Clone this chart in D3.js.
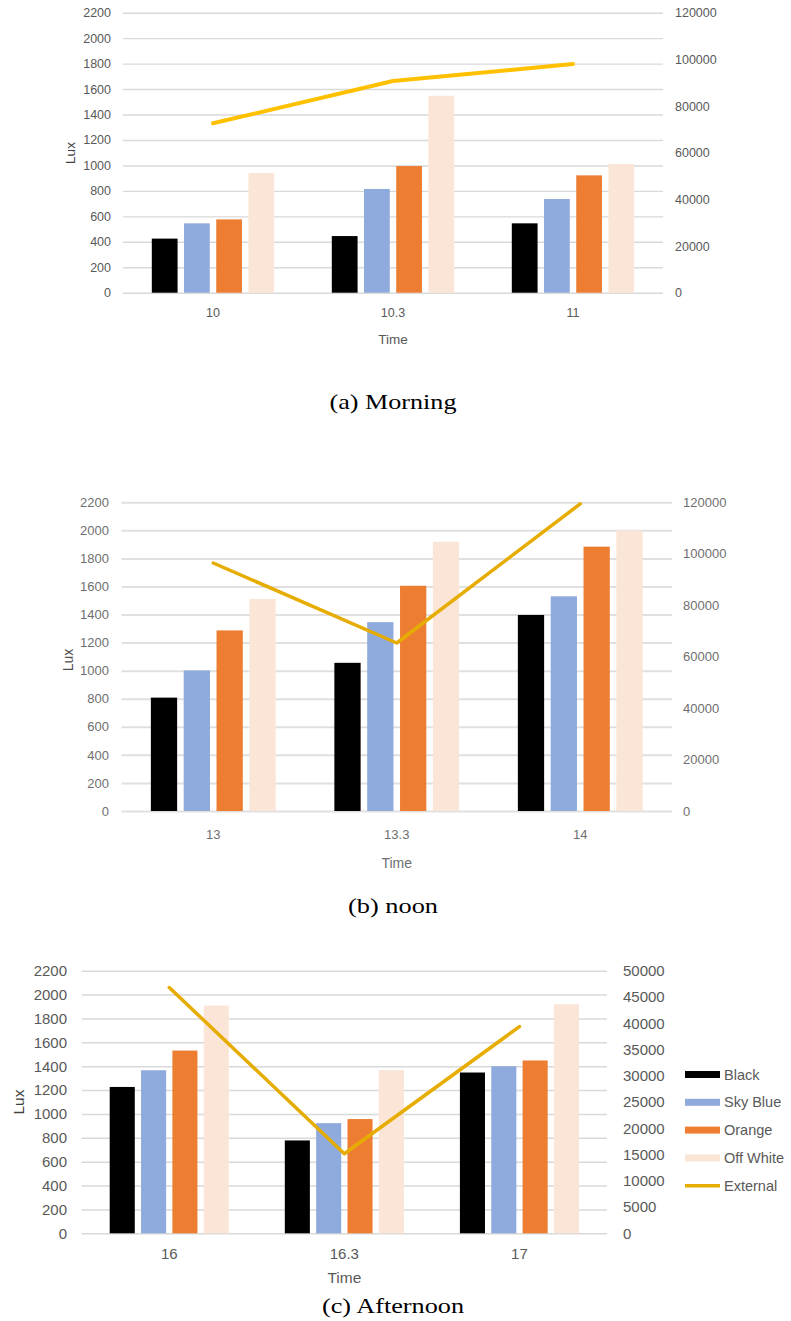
<!DOCTYPE html>
<html>
<head>
<meta charset="utf-8">
<script src="https://cdn.jsdelivr.net/npm/d3@7"></script>
<style>
  html, body { margin: 0; padding: 0; background: #fff; }
  svg { display: block; }
</style>
</head>
<body>
<svg id="chart" width="791" height="1321"></svg>
<script>
// ---------------- DATA ----------------
const seriesNames = ["Black", "Sky Blue", "Orange", "Off White"];
const lineName = "External";

const morningTimes = ["10", "10.3", "11"];
const morningBlack = [425, 445, 545];
const morningSkyBlue = [545, 815, 736];
const morningOrange = [576, 995, 922];
const morningOffWhite = [940, 1548, 1011];
const morningExternal = [72600, 90700, 98000];

const noonTimes = ["13", "13.3", "14"];
const noonBlack = [808, 1056, 1397];
const noonSkyBlue = [1002, 1346, 1530];
const noonOrange = [1287, 1605, 1884];
const noonOffWhite = [1511, 1919, 1998];
const noonExternal = [96400, 65300, 119400];

const afternoonTimes = ["16", "16.3", "17"];
const afternoonBlack = [1226, 778, 1347];
const afternoonSkyBlue = [1366, 923, 1400];
const afternoonOrange = [1531, 957, 1448];
const afternoonOffWhite = [1908, 1367, 1919];
const afternoonExternal = [46800, 15150, 39350];

const luxTicks = [0, 200, 400, 600, 800, 1000, 1200, 1400, 1600, 1800, 2000, 2200];
const externalTicksAB = [0, 20000, 40000, 60000, 80000, 100000, 120000];
const externalTicksC = [0, 5000, 10000, 15000, 20000, 25000, 30000, 35000, 40000, 45000, 50000];

const captions = ["(a) Morning", "(b) noon", "(c) Afternoon"];

// ---------------- STYLE ----------------
const barColors = ["#000000", "#8faadc", "#ed7d31", "#fbe5d6"];
const svg = d3.select("#chart");
const sansFont = "'Liberation Sans', Arial, sans-serif";

function drawPanel(cfg) {
  const g = svg.append("g");
  const x0 = d3.scaleBand().domain(cfg.times).range([cfg.left, cfg.right])
    .paddingInner(0.32).paddingOuter(0.16);
  const x1 = d3.scaleBand().domain(seriesNames).range([0, x0.bandwidth()])
    .paddingInner(0.2).paddingOuter(0);
  const yL = d3.scaleLinear().domain([0, 2200]).range([cfg.bottom, cfg.top]);
  const yR = d3.scaleLinear().domain([0, d3.max(cfg.rightTicks)]).range([cfg.bottom, cfg.top]);

  // left axis + gridlines
  const leftAxis = d3.axisLeft(yL).tickValues(luxTicks).tickFormat(d3.format("d"))
    .tickSize(-(cfg.right - cfg.left)).tickPadding(cfg.left - cfg.leftLabelEnd);
  const ga = g.append("g").attr("transform", `translate(${cfg.left},0)`).call(leftAxis);
  ga.select(".domain").remove();
  ga.selectAll(".tick line").attr("stroke", cfg.gridColor).attr("stroke-width", cfg.gridWidth);
  ga.selectAll(".tick text").attr("fill", cfg.textColor)
    .style("font-family", sansFont)
    .style("font-size", cfg.tickFont + "px");

  // right axis
  const rightAxis = d3.axisRight(yR).tickValues(cfg.rightTicks).tickSize(0)
    .tickPadding(cfg.rightLabelStart - cfg.right).tickFormat(d3.format("d"));
  const gr = g.append("g").attr("transform", `translate(${cfg.right},0)`).call(rightAxis);
  gr.select(".domain").remove();
  gr.selectAll(".tick text").attr("fill", cfg.textColor)
    .style("font-family", sansFont)
    .style("font-size", cfg.tickFont + "px");

  // bars
  const rows = cfg.times.map((t, i) => ({
    time: t,
    vals: seriesNames.map((s, j) => ({ s, v: cfg.series[j][i], j }))
  }));
  const grp = g.selectAll(".grp").data(rows).enter().append("g")
    .attr("transform", d => `translate(${x0(d.time)},0)`);
  grp.selectAll("rect").data(d => d.vals).enter().append("rect")
    .attr("x", d => x1(d.s))
    .attr("width", x1.bandwidth())
    .attr("y", d => yL(d.v))
    .attr("height", d => yL(0) - yL(d.v))
    .attr("fill", d => barColors[d.j]);

  // external line
  const line = d3.line()
    .x((d, i) => x0(cfg.times[i]) + x0.bandwidth() / 2)
    .y(d => yR(d));
  g.append("path").datum(cfg.external)
    .attr("d", line).attr("fill", "none")
    .attr("stroke", cfg.lineColor).attr("stroke-width", cfg.lineWidth)
    .attr("stroke-linecap", "round").attr("stroke-linejoin", "round");

  // category labels
  g.selectAll(".cat").data(cfg.times).enter().append("text")
    .attr("x", d => x0(d) + x0.bandwidth() / 2)
    .attr("y", cfg.catY)
    .attr("text-anchor", "middle").attr("dominant-baseline", "central")
    .attr("fill", cfg.textColor)
    .style("font-family", sansFont)
    .style("font-size", cfg.tickFont + "px")
    .text(d => d);

  // axis titles
  g.append("text").attr("x", (cfg.left + cfg.right) / 2).attr("y", cfg.timeY)
    .attr("text-anchor", "middle").attr("dominant-baseline", "central")
    .attr("fill", cfg.textColor)
    .style("font-family", sansFont)
    .style("font-size", cfg.titleFont + "px").text("Time");
  g.append("text")
    .attr("transform", `translate(${cfg.luxX},${cfg.luxY}) rotate(-90)`)
    .attr("text-anchor", "middle").attr("dominant-baseline", "central")
    .attr("fill", cfg.luxColor)
    .style("font-family", sansFont)
    .style("font-size", cfg.titleFont + "px").text("Lux");

  // caption
  g.append("text").attr("x", 393).attr("y", cfg.captionY)
    .attr("text-anchor", "middle").attr("dominant-baseline", "central")
    .attr("fill", "#000")
    .attr("textLength", cfg.captionWidth).attr("lengthAdjust", "spacingAndGlyphs")
    .style("font-family", "'Liberation Serif', 'Times New Roman', Times, serif")
    .style("font-size", "22px").text(cfg.caption);

  // legend
  if (cfg.legend) {
    const lg = g.append("g");
    const entries = seriesNames.concat([lineName]);
    entries.forEach((name, i) => {
      const yy = cfg.legendY + i * cfg.legendStep;
      if (i < seriesNames.length) {
        lg.append("rect").attr("x", cfg.legendX).attr("y", yy - 3.5)
          .attr("width", 35).attr("height", 7).attr("fill", barColors[i]);
      } else {
        lg.append("line").attr("x1", cfg.legendX).attr("x2", cfg.legendX + 35)
          .attr("y1", yy).attr("y2", yy)
          .attr("stroke", cfg.lineColor).attr("stroke-width", 3.5);
      }
      lg.append("text").attr("x", cfg.legendX + 39).attr("y", yy)
        .attr("dominant-baseline", "central").attr("fill", cfg.textColor)
        .style("font-family", sansFont)
        .style("font-size", "14.5px").text(name);
    });
  }
}

drawPanel({
  times: morningTimes,
  series: [morningBlack, morningSkyBlue, morningOrange, morningOffWhite],
  external: morningExternal, rightTicks: externalTicksAB,
  left: 123, right: 663, top: 12.7, bottom: 292.7,
  leftLabelEnd: 111, rightLabelStart: 675,
  tickFont: 12.5, titleFont: 13.5,
  catY: 313, timeY: 339, luxX: 70, luxY: 153,
  gridColor: "#d9d9d9", gridWidth: 1.4, textColor: "#595959", luxColor: "#404040",
  lineColor: "#ffc000", lineWidth: 4,
  caption: captions[0], captionY: 401, captionWidth: 127, legend: false
});

drawPanel({
  times: noonTimes,
  series: [noonBlack, noonSkyBlue, noonOrange, noonOffWhite],
  external: noonExternal, rightTicks: externalTicksAB,
  left: 121.5, right: 672, top: 502.3, bottom: 811,
  leftLabelEnd: 109, rightLabelStart: 683,
  tickFont: 13, titleFont: 14,
  catY: 834.5, timeY: 862.5, luxX: 68, luxY: 660,
  gridColor: "#e0e0e0", gridWidth: 2, textColor: "#6f6f6f", luxColor: "#505050",
  lineColor: "#e6ac00", lineWidth: 3.5,
  caption: captions[1], captionY: 905, captionWidth: 90, legend: false
});

drawPanel({
  times: afternoonTimes,
  series: [afternoonBlack, afternoonSkyBlue, afternoonOrange, afternoonOffWhite],
  external: afternoonExternal, rightTicks: externalTicksC,
  left: 81.7, right: 607, top: 970.7, bottom: 1233.3,
  leftLabelEnd: 67, rightLabelStart: 623,
  tickFont: 15, titleFont: 15.5,
  catY: 1253, timeY: 1277, luxX: 18, luxY: 1102,
  gridColor: "#d9d9d9", gridWidth: 1.4, textColor: "#595959", luxColor: "#404040",
  lineColor: "#e6ac00", lineWidth: 3.5,
  caption: captions[2], captionY: 1305, captionWidth: 142, legend: true,
  legendX: 685, legendY: 1074.5, legendStep: 27.8
});
</script>
</body>
</html>
